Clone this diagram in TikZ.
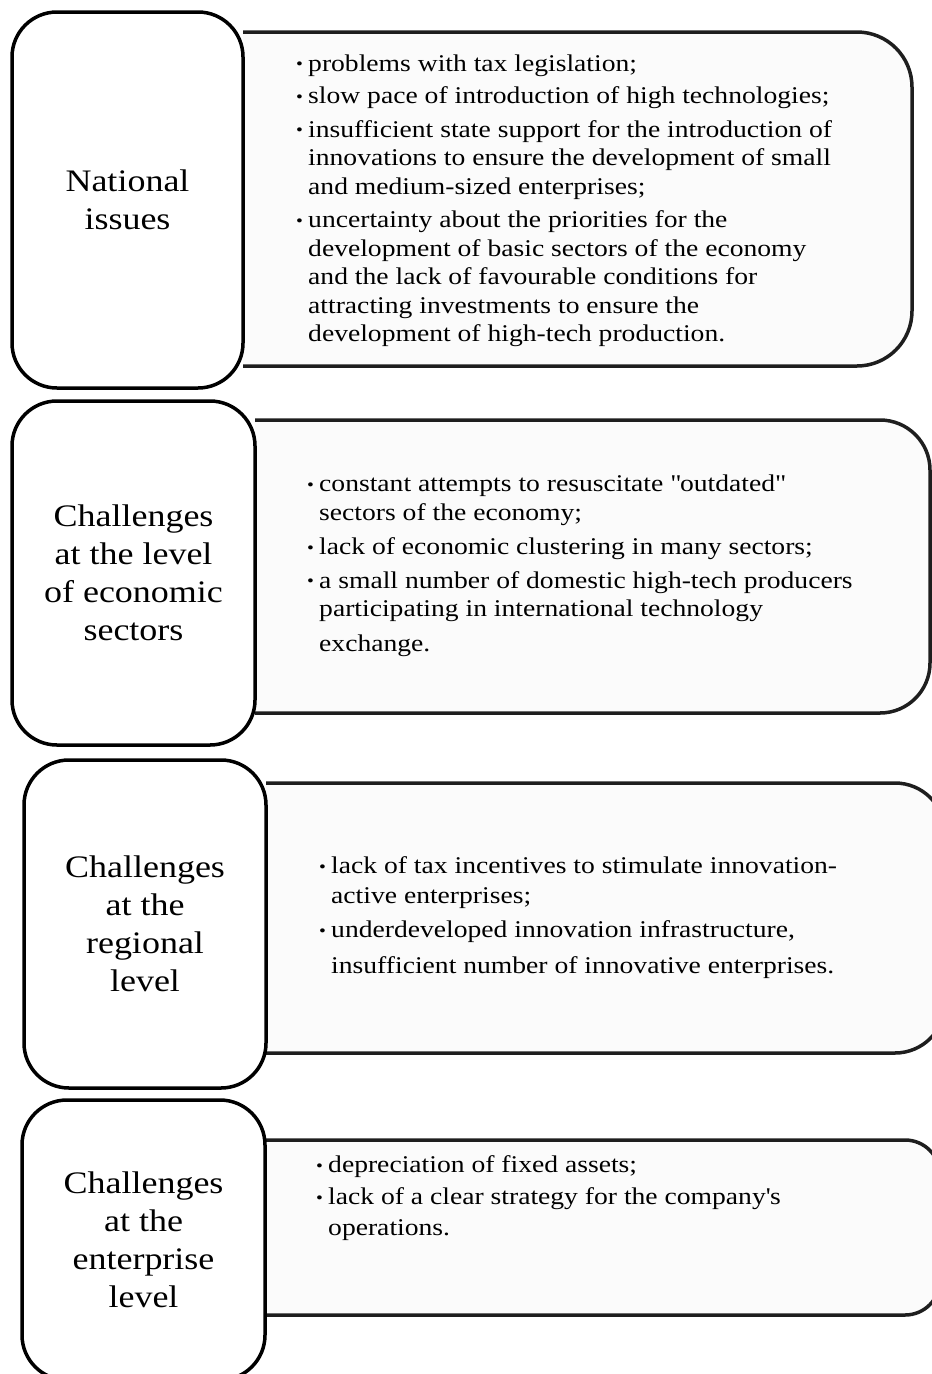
\documentclass[tikz,border=0pt]{standalone}
\usepackage{fontspec}
\setmainfont[FakeStretch=1.15]{Liberation Serif}
\newcommand{\bul}{\makebox[12pt][l]{\raisebox{1.5pt}{\fontsize{17}{17}\selectfont •}}}
\newcommand{\ind}{\hspace*{12pt}}
\begin{document}
\begin{tikzpicture}[x=1pt,y=-1pt,
  leftbox/.style={draw=black, line width=3.5pt, fill=white, rounded corners=45pt,
    align=center, inner sep=0pt, font=\fontsize{31.3}{38}\selectfont},
  rbox/.style={draw={rgb,255:red,30;green,30;blue,30}, line width=3.5pt,
    fill={rgb,255:red,251;green,251;blue,251}},
  bodytext/.style={align=left, inner sep=0pt, anchor=north west,
    font=\fontsize{24}{28.5}\selectfont}]
\useasboundingbox (0,0) rectangle (932,1374);
\clip (0,0) rectangle (932,1374);

% ---------- right boxes ----------
\path[rbox, rounded corners=55pt] (243,32) -- (912,32) -- (912,366) -- (243,366);
\path[rbox, rounded corners=50pt] (255,420) -- (930,420) -- (930,713) -- (255,713);
\path[rbox, rounded corners=50pt] (266,783) -- (945,783) -- (945,1053) -- (266,1053);
\path[rbox, rounded corners=35pt] (265,1140) -- (940,1140) -- (940,1315) -- (265,1315);

% ---------- left boxes ----------
\node[leftbox, minimum width=231pt, minimum height=376pt] (L1) at (127.5,200) {National\\issues};
\node[leftbox, minimum width=243pt, minimum height=344pt] (L2) at (133.5,573) {Challenges\\at the level\\of economic\\sectors};
\node[leftbox, minimum width=242pt, minimum height=328pt] (L3) at (145,924) {Challenges\\at the\\regional\\level};
\node[leftbox, minimum width=243pt, minimum height=280pt] (L4) at (143.5,1240) {Challenges\\at the\\enterprise\\level};

% ---------- texts ----------
\node[bodytext] (T1) at (296,51) {\strut\bul problems with tax legislation;\\[4pt]
\bul slow pace of introduction of high technologies;\\[5pt]
\bul insufficient state support for the introduction of\\
\ind innovations to ensure the development of small\\
\ind and medium-sized enterprises;\\[5pt]
\bul uncertainty about the priorities for the\\
\ind development of basic sectors of the economy\\
\ind and the lack of favourable conditions for\\
\ind attracting investments to ensure the\\
\ind development of high-tech production.};

\node[bodytext] (T2) at (307,471.5) {\strut\bul constant attempts to resuscitate \textquotedbl outdated\textquotedbl\\
\ind sectors of the economy;\\[6pt]
\bul lack of economic clustering in many sectors;\\[5pt]
\bul a small number of domestic high-tech producers\\
\ind participating in international technology\\[6.5pt]
\ind exchange.};

\node[bodytext] (T3) at (319,853.5) {\strut\bul lack of tax incentives to stimulate innovation-\\[1.5pt]
\ind active enterprises;\\[5.5pt]
\bul underdeveloped innovation infrastructure,\\[7.5pt]
\ind insufficient number of innovative enterprises.};

\node[bodytext] (T4) at (316,1152.5) {\strut\bul depreciation of fixed assets;\\[3.5pt]
\bul lack of a clear strategy for the company\textquotesingle s\\[2.5pt]
\ind operations.};
\end{tikzpicture}
\end{document}
